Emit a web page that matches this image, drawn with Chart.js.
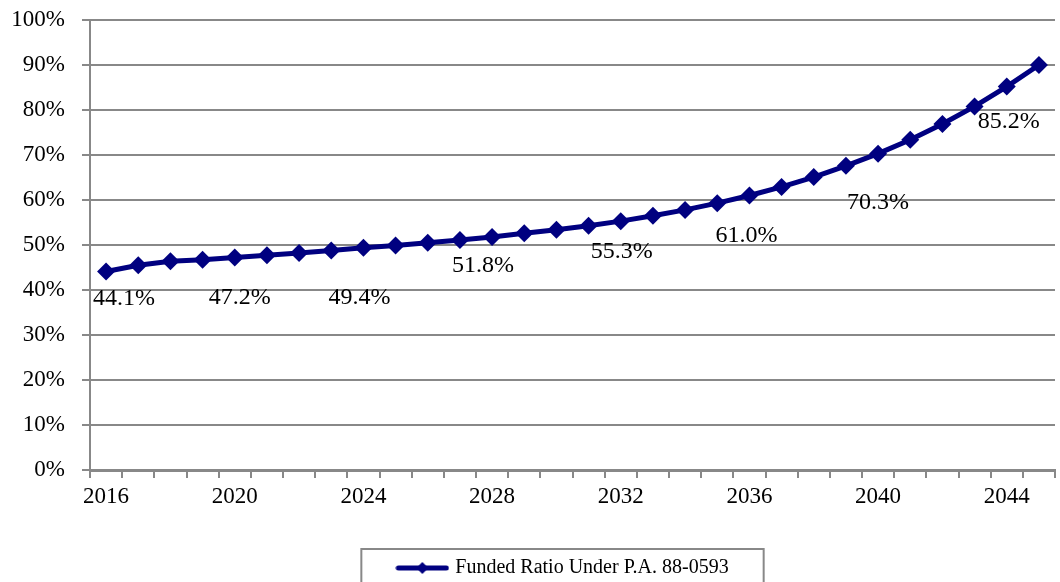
<!DOCTYPE html>
<html>
<head>
<meta charset="utf-8">
<script src="https://cdn.jsdelivr.net/npm/chart.js@4/dist/chart.umd.min.js"></script>
<style>
html, body { margin: 0; padding: 0; background: #fff; overflow: hidden; }
#wrap { position: relative; width: 1064px; height: 600px; }
</style>
</head>
<body>
<div id="wrap"><canvas id="chart"></canvas></div>
<script>
// chart data
const years = ["2016", "2017", "2018", "2019", "2020", "2021", "2022", "2023", "2024", "2025",
               "2026", "2027", "2028", "2029", "2030", "2031", "2032", "2033", "2034", "2035",
               "2036", "2037", "2038", "2039", "2040", "2041", "2042", "2043", "2044", "2045"];
const funded = [44.1, 45.5, 46.4, 46.7, 47.2, 47.7, 48.2, 48.8, 49.4, 49.9,
                50.5, 51.1, 51.8, 52.6, 53.4, 54.3, 55.3, 56.5, 57.8, 59.3,
                61.0, 62.9, 65.1, 67.6, 70.3, 73.4, 76.9, 80.8, 85.2, 90.0];
const tickYears = ["2016", "2020", "2024", "2028", "2032", "2036", "2040", "2044"];
const labelYears = ["2016", "2020", "2024", "2028", "2032", "2036", "2040", "2044"];
const seriesName = "Funded Ratio Under P.A. 88-0593";

const navy = "#000080";
const gray = "#888888";
const serif = "'Liberation Serif', 'Times New Roman', serif";

// where each value label sits relative to its point (dx, dy)
const labelNudge = {
    "2016": [18, 27], "2020": [5, 40], "2024": [-4, 50], "2028": [-9, 29],
    "2032": [1, 31], "2036": [-3, 40], "2040": [0, 49], "2044": [2, 35]
};

// legend sample: line with a diamond
function legendSample() {
    let c = document.createElement("canvas");
    c.width = 54;
    c.height = 14;
    let ctx = c.getContext("2d");
    ctx.strokeStyle = navy;
    ctx.lineWidth = 5;
    ctx.lineCap = "round";
    ctx.beginPath();
    ctx.moveTo(3, 7);
    ctx.lineTo(51, 7);
    ctx.stroke();
    ctx.fillStyle = navy;
    ctx.beginPath();
    ctx.moveTo(27, 1);
    ctx.lineTo(33, 7);
    ctx.lineTo(27, 13);
    ctx.lineTo(21, 7);
    ctx.closePath();
    ctx.fill();
    return c;
}
const sample = legendSample();

const valueLabels = {
    id: "valueLabels",
    afterDatasetsDraw(chart) {
        let ctx = chart.ctx;
        let meta = chart.getDatasetMeta(0);
        ctx.save();
        ctx.font = "24px " + serif;
        ctx.fillStyle = "#000";
        ctx.textAlign = "center";
        ctx.textBaseline = "middle";
        years.forEach((y, i) => {
            if (!labelYears.includes(y)) return;
            let pt = meta.data[i];
            let n = labelNudge[y] || [0, 30];
            ctx.fillText(funded[i].toFixed(1) + "%", pt.x + n[0], pt.y + n[1]);
        });
        ctx.restore();
    }
};

// y tick labels sit in the left padding, so widen the axis clip box
const yLabelRoom = {
    id: "yLabelRoom",
    afterLayout(chart) {
        chart.scales.y.left = 0;
    }
};

const legendBorder = {
    id: "legendBorder",
    afterDraw(chart) {
        let box = chart.legend.legendHitBoxes[0];
        if (!box) return;
        let ctx = chart.ctx;
        ctx.save();
        ctx.strokeStyle = gray;
        ctx.lineWidth = 2;
        ctx.strokeRect(box.left - 38, box.top + box.height / 2 - 19, box.width + 73, 60);
        ctx.restore();
    }
};

new Chart(document.getElementById("chart"), {
    type: "line",
    data: {
        labels: years,
        datasets: [{
            label: seriesName,
            data: funded,
            borderColor: navy,
            backgroundColor: navy,
            borderWidth: 5,
            pointStyle: "rectRot",
            pointRadius: 9,
            pointHoverRadius: 9,
            pointBorderWidth: 0,
            pointBackgroundColor: navy,
            tension: 0
        }]
    },
    options: {
        responsive: true,
        maintainAspectRatio: false,
        animation: false,
        events: [],
        layout: {
            padding: { left: 64, right: 0, top: 20, bottom: 12 }
        },
        plugins: {
            tooltip: { enabled: false },
            legend: {
                position: "bottom",
                labels: {
                    usePointStyle: true,
                    pointStyleWidth: 46,
                    padding: 6,
                    color: "#000",
                    font: { family: serif, size: 20 },
                    generateLabels: () => [{
                        text: seriesName,
                        pointStyle: sample,
                        fillStyle: navy,
                        strokeStyle: navy,
                        lineWidth: 0,
                        datasetIndex: 0,
                        hidden: false
                    }]
                }
            }
        },
        scales: {
            x: {
                offset: true,
                afterFit: (s) => { s.height = 82; },
                grid: {
                    offset: true,
                    drawOnChartArea: false,
                    drawTicks: true,
                    tickLength: 8,
                    color: gray,
                    lineWidth: 2
                },
                border: { color: gray, width: 3 },
                ticks: {
                    autoSkip: false,
                    maxRotation: 0,
                    padding: 5,
                    color: "#000",
                    font: { family: serif, size: 23 },
                    callback: function (v) {
                        let y = this.getLabelForValue(v);
                        return tickYears.includes(y) ? y : "";
                    }
                }
            },
            y: {
                min: 0,
                max: 100,
                afterFit: (s) => {
                    s.width = 26;
                    s.paddingTop = 0;
                    s.paddingBottom = 0;
                },
                grid: {
                    color: gray,
                    lineWidth: 2,
                    drawTicks: true,
                    tickLength: 8
                },
                border: { color: gray, width: 2 },
                ticks: {
                    stepSize: 10,
                    padding: 17,
                    color: "#000",
                    font: { family: serif, size: 23 },
                    callback: (v) => v + "%"
                }
            }
        }
    },
    plugins: [valueLabels, yLabelRoom, legendBorder]
});
</script>
</body>
</html>
